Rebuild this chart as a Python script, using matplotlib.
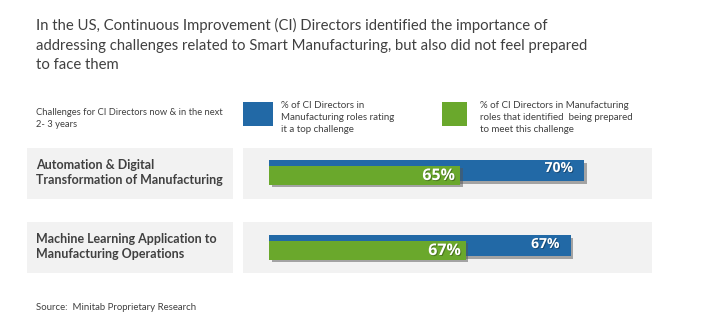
import matplotlib
matplotlib.use("Agg")
import matplotlib.pyplot as plt
import matplotlib.patheffects as pe
from matplotlib.patches import Rectangle

# ---- data ----
categories = ["Automation & Digital\nTransformation of Manufacturing",
              "Machine Learning Application to\nManufacturing Operations"]
top_challenge = [70, 67]   # blue series
prepared = [65, 67]        # green series
series_labels = ["% of CI Directors in\nManufacturing roles rating\nit a top challenge",
                 "% of CI Directors in Manufacturing\nroles that identified  being prepared\nto meet this challenge"]
title = ("In the US, Continuous Improvement (CI) Directors identified the importance of\n"
         "addressing challenges related to Smart Manufacturing, but also did not feel prepared\n"
         "to face them")
header = "Challenges for CI Directors now & in the next\n2- 3 years"
source = "Source:  Minitab Proprietary Research"

BLUE = "#2269a6"
GREEN = "#6aa82c"
TXT = "#404040"
BOX = "#f2f2f2"
FONT = ["Lato", "DejaVu Sans"]

W, H = 708, 326
fig = plt.figure(figsize=(W / 100, H / 100), dpi=100)
bg = fig.add_axes([0, 0, 1, 1])
bg.set_xlim(0, W)
bg.set_ylim(H, 0)
bg.axis("off")

renderer = fig.canvas.get_renderer()


def fit_text(ax, x, y, s, target_w, size, first_line=None, **kw):
    t = ax.text(x, y, s, fontsize=size, **kw)
    probe = first_line if first_line is not None else s
    p = ax.text(0, 0, probe, fontsize=size, family=kw.get("family"),
                fontweight=kw.get("fontweight", "normal"))
    w = p.get_window_extent(renderer).width
    p.remove()
    t.set_fontsize(size * target_w / w)
    return t


# title
fit_text(bg, 36, 18, title, 511, 11, first_line=title.split("\n")[0],
         family=FONT, color=TXT, va="top", ha="left", linespacing=1.5)

# header
fit_text(bg, 36, 108, header, 188, 7, first_line=header.split("\n")[0],
         family=FONT, color=TXT, va="top", ha="left", linespacing=1.4)

# legend squares + labels
legend_x = [243, 442]
legend_w = [30, 25]
colors = [BLUE, GREEN]
for k in range(2):
    bg.add_patch(Rectangle((legend_x[k], 102), legend_w[k], 24, color=colors[k], lw=0))
for k in range(2):
    x0 = legend_x[k] + legend_w[k] + 8 + (5 if k == 1 else 0)
    bg.text(x0, 101, series_labels[k], fontsize=7, family=FONT, color=TXT,
            va="top", ha="left", linespacing=1.45)

# row boxes
row_px = [173.5, 247.5]
for i, cat in enumerate(categories):
    top = row_px[i] - 25.5
    bg.add_patch(Rectangle((27, top), 206, 51, color=BOX, lw=0))
    bg.add_patch(Rectangle((243, top), 409, 51, color=BOX, lw=0))
    fit_text(bg, 36, row_px[i] - 1, cat, 188, 9.5,
             first_line="Transformation of Manufacturing",
             family=FONT, fontweight="bold", color=TXT, va="center", ha="left",
             linespacing=1.35)

# source
fit_text(bg, 36, 307, source, 160, 7, family=FONT, color=TXT, va="center", ha="left")

# ---- bar axes (two scales, as in the original) ----
ax_l, ax_r = 269, 652
ax_top, ax_bot = 135, 285
rect = [ax_l / W, 1 - ax_bot / H, (ax_r - ax_l) / W, (ax_bot - ax_top) / H]
ax_b = fig.add_axes(rect)
ax_g = fig.add_axes(rect)
for ax in (ax_b, ax_g):
    ax.set_facecolor("none")
    ax.axis("off")
    ax.set_ylim(1.5, -0.5)
ax_b.set_xlim(0, (ax_r - ax_l) / 4.5)
ax_g.set_xlim(0, (ax_r - ax_l) / 2.94)

unit = (ax_bot - ax_top) / 2.0
shadow = [pe.SimplePatchShadow(offset=(1.8, -1.8), shadow_rgbFace="#555555", alpha=0.5),
          pe.Normal()]
tshadow = [pe.SimplePatchShadow(offset=(0.7, -0.7), shadow_rgbFace="#000000", alpha=0.3),
           pe.Normal()]

ys = list(range(len(categories)))
b_off = -2 / unit
g_off = 2.5 / unit
bars_b = ax_b.barh([y + b_off for y in ys], top_challenge, height=21 / unit,
                   color=BLUE, lw=0)
bars_g = ax_g.barh([y + g_off for y in ys], prepared, height=19 / unit,
                   color=GREEN, lw=0)
for b in list(bars_b) + list(bars_g):
    b.set_path_effects(shadow)

for i, v in enumerate(top_challenge):
    ax_b.annotate(f"{v}%", xy=(v, i + b_off), xytext=(-11, 2.5 if i == 0 else 1.5),
                  textcoords="offset pixels", ha="right", va="center",
                  color="white", fontweight="bold", fontsize=10,
                  family=["Open Sans", "DejaVu Sans"], path_effects=tshadow)
for i, v in enumerate(prepared):
    ax_g.annotate(f"{v}%", xy=(v, i + g_off), xytext=(-5, -1),
                  textcoords="offset pixels", ha="right", va="center",
                  color="white", fontweight="bold", fontsize=11.5,
                  family=["Open Sans", "DejaVu Sans"], path_effects=tshadow)

fig.savefig("out.png", dpi=100, facecolor="white")
